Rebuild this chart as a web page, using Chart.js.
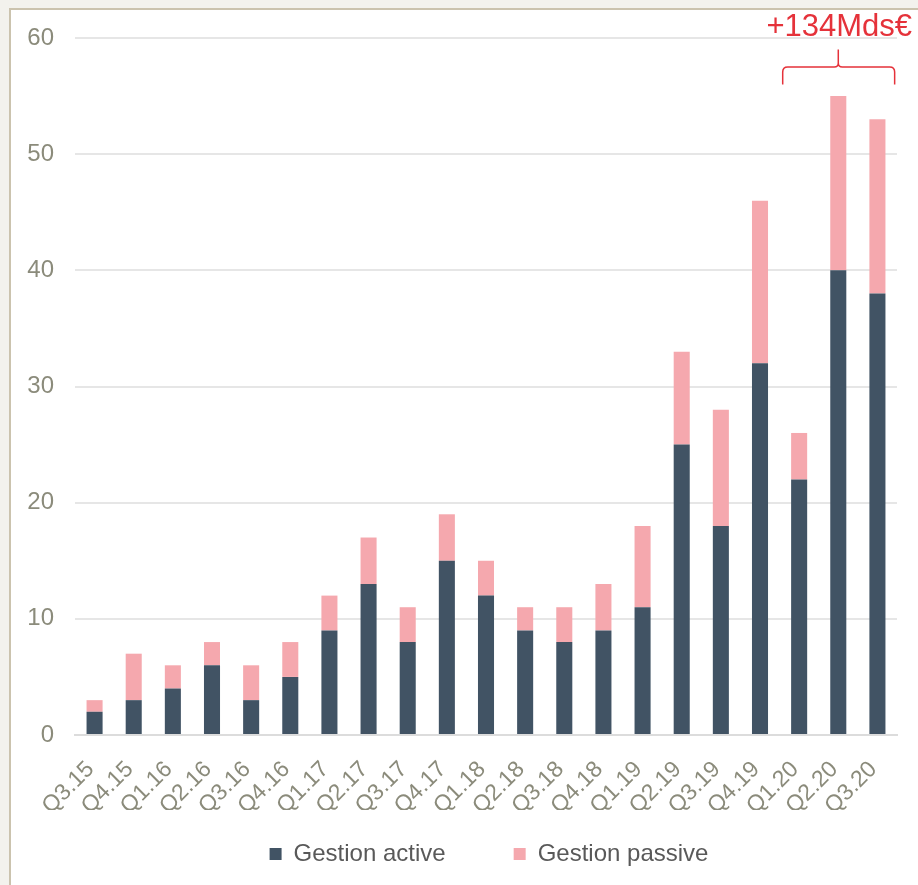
<!DOCTYPE html>
<html>
<head>
<meta charset="utf-8">
<script src="https://cdn.jsdelivr.net/npm/chart.js@4/dist/chart.umd.min.js"></script>
<style>
  html, body { margin: 0; padding: 0; width: 918px; height: 885px; overflow: hidden; background: #f3f2ed; }
  #card { position: absolute; left: 9px; top: 8px; width: 1000px; height: 1000px; background: #ffffff;
          border-left: 2px solid #cbc3ae; border-top: 2px solid #cbc3ae; }
  #c { position: absolute; left: 0; top: 0; }
</style>
</head>
<body>
<div id="card"></div>
<canvas id="c" width="918" height="912"></canvas>
<script>
// Quarterly net inflows (Mds€), split by management style
const quarters = ['Q3.15','Q4.15','Q1.16','Q2.16','Q3.16','Q4.16','Q1.17','Q2.17','Q3.17','Q4.17',
                  'Q1.18','Q2.18','Q3.18','Q4.18','Q1.19','Q2.19','Q3.19','Q4.19','Q1.20','Q2.20','Q3.20'];
const active  = [2, 3, 4, 6, 3, 5, 9, 13, 8, 15, 12, 9, 8, 9, 11, 25, 18, 32, 22, 40, 38];
const passive = [1, 4, 2, 2, 3, 3, 3, 4, 3, 4, 3, 2, 3, 4, 7, 8, 10, 14, 4, 15, 15];
const seriesNames = ['Gestion active', 'Gestion passive'];
const yMax = 60;
const yStep = 10;

const tickColor = '#8b8b7b';
const fontFamily = '"Liberation Sans", Arial, sans-serif';
Chart.defaults.font.family = fontFamily;

// Curly bracket over the 2020 quarters with the year-to-date total
const ytdBracket = {
  id: 'ytdBracket',
  afterDatasetsDraw(chart) {
    const { ctx, scales: { x, y } } = chart;
    const n = quarters.length;
    const step = x.getPixelForValue(1) - x.getPixelForValue(0);
    const x0 = x.getPixelForValue(n - 3) - 0.42 * step;
    const x1 = x.getPixelForValue(n - 1) + 0.44 * step;
    const xm = x.getPixelForValue(n - 2);
    const yEnd = y.getPixelForValue(56);
    const yMid = y.getPixelForValue(57.5);
    const yTip = y.getPixelForValue(59);
    const r = 5, rm = 4;
    let ytd = 0;
    for (let i = n - 3; i < n; i++) ytd += active[i] + passive[i];

    ctx.save();
    ctx.strokeStyle = '#e5323a';
    ctx.lineWidth = 1.5;
    ctx.beginPath();
    ctx.moveTo(x0, yEnd);
    ctx.lineTo(x0, yMid + r);
    ctx.quadraticCurveTo(x0, yMid, x0 + r, yMid);
    ctx.lineTo(xm - rm, yMid);
    ctx.quadraticCurveTo(xm, yMid, xm, yMid - rm);
    ctx.lineTo(xm, yTip);
    ctx.moveTo(xm, yMid - rm);
    ctx.quadraticCurveTo(xm, yMid, xm + rm, yMid);
    ctx.lineTo(x1 - r, yMid);
    ctx.quadraticCurveTo(x1, yMid, x1, yMid + r);
    ctx.lineTo(x1, yEnd);
    ctx.stroke();

    ctx.fillStyle = '#e5323a';
    ctx.font = '31px ' + fontFamily;
    ctx.textAlign = 'center';
    ctx.textBaseline = 'alphabetic';
    ctx.fillText('+' + ytd + 'Mds€', xm + 1, y.getPixelForValue(yMax) - 2);
    ctx.restore();
  }
};

// The legend keeps a wide gap between its two entries; pull it up closer to the axis labels
const legendLift = {
  id: 'legendLift',
  afterLayout(chart) {
    const lg = chart.legend;
    if (!lg) return;
    const lift = 36, nudge = 3;
    lg.top -= lift;
    lg.bottom -= lift;
    lg.left += nudge;
    lg.right += nudge;
  }
};

new Chart(document.getElementById('c'), {
  type: 'bar',
  data: {
    labels: quarters,
    datasets: [
      { label: seriesNames[0], data: active, backgroundColor: '#415364', borderWidth: 0 },
      { label: seriesNames[1], data: passive, backgroundColor: '#f5a8ae', borderWidth: 0 }
    ]
  },
  options: {
    responsive: false,
    animation: false,
    datasets: { bar: { barPercentage: 0.41, categoryPercentage: 1 } },
    layout: { padding: { left: 27, right: 21, top: 38, bottom: 0 } },
    plugins: {
      legend: {
        position: 'bottom',
        fullSize: false,
        labels: { boxWidth: 12, boxHeight: 12, padding: 68, color: '#595959', font: { size: 24 } }
      },
      tooltip: { enabled: false }
    },
    scales: {
      x: {
        stacked: true,
        grid: { display: false },
        border: { color: '#dcdcdc', width: 2 },
        ticks: { color: tickColor, font: { size: 23 }, minRotation: 45, maxRotation: 45,
                 padding: 13, labelOffset: -4, autoSkip: false },
        afterFit(s) { s.height = 75; }
      },
      y: {
        stacked: true,
        min: 0,
        max: yMax,
        ticks: { stepSize: yStep, color: tickColor, font: { size: 24 }, padding: 21 },
        grid: { color: '#e6e6e6', lineWidth: 2, drawTicks: false },
        border: { display: false },
        afterFit(s) { s.width = 48; }
      }
    }
  },
  plugins: [ytdBracket, legendLift]
});
</script>
</body>
</html>
